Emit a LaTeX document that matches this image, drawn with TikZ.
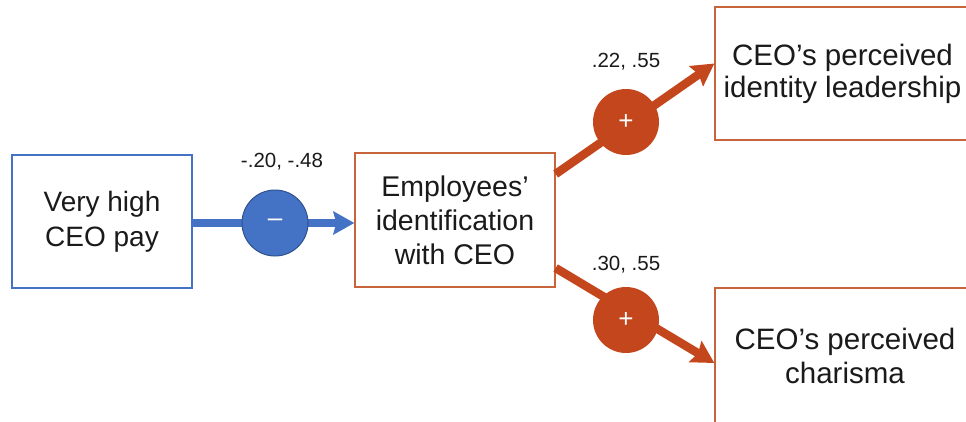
\documentclass[tikz,border=0pt]{standalone}
\usepackage{fontspec}
\setmainfont{Liberation Sans}
\usetikzlibrary{arrows.meta}
\definecolor{myblue}{HTML}{4472C4}
\definecolor{darkblue}{HTML}{2F528F}
\definecolor{myorange}{HTML}{C4461C}
\definecolor{boxorange}{HTML}{C8643C}
\definecolor{txt}{HTML}{1A1A1A}
\tikzset{
  box/.style={draw=#1, line width=1.3pt, fill=white, align=center, text=txt,
    font=\fontsize{28}{35}\selectfont, inner sep=0pt},
  bluearrow/.style={draw=myblue, line width=8.5pt, -{Stealth[length=21pt,width=23pt,inset=3pt]}},
  orangearrow/.style={draw=myorange, line width=8.5pt, -{Stealth[length=22pt,width=24pt,inset=3pt]}},
  circ/.style={circle, minimum size=66pt, inner sep=0pt, fill=#1, text=white,
    font=\fontsize{26}{26}\selectfont},
  lbl/.style={font=\fontsize{20.5}{20.5}\selectfont, text=txt, inner sep=0pt}
}
\begin{document}
\begin{tikzpicture}[x=1pt,y=-1pt]
\useasboundingbox (0,0) rectangle (966,421);
\clip (0,0) rectangle (966,421);
\node[box=myblue, minimum width=180pt, minimum height=133pt] (b1) at (102,221.5) {Very high\\CEO pay};
\node[box=boxorange, minimum width=200pt, minimum height=134pt, font=\fontsize{28.5}{34}\selectfont] (b2) at (455,220) {Employees’\\identification\\with CEO};
\node[box=boxorange, minimum width=255pt, minimum height=133pt, font=\fontsize{29.5}{32}\selectfont] (b3) at (842.5,73.5) {CEO’s perceived\\identity leadership};
\node[box=boxorange, minimum width=260pt, minimum height=136pt, font=\fontsize{29.5}{34}\selectfont] (b4) at (845,356) {CEO’s perceived\\charisma};

\coordinate (s1) at ([yshift=46pt]b2.east);
\coordinate (e1) at ([yshift=10pt]b3.west);
\coordinate (s2) at ([yshift=-48pt]b2.east);
\coordinate (e2) at ([yshift=-7pt]b4.west);

\draw[bluearrow] (b1.east |- 0,223) -- (b2.west |- 0,223);
\node[circ=myblue, draw=darkblue, line width=1pt] (c1) at (275,223) {\raisebox{1pt}{–}};
\node[lbl] (l1) at (282,162) {-.20, -.48};

\draw[orangearrow] (s1) -- (e1);
\node[circ=myorange] (c2) at (626,122) {+};
\node[lbl] (l2) at (626,62) {.22, .55};

\draw[orangearrow] (s2) -- (e2);
\node[circ=myorange] (c3) at (626,320) {+};
\node[lbl] (l3) at (626,265) {.30, .55};
\end{tikzpicture}
\end{document}
